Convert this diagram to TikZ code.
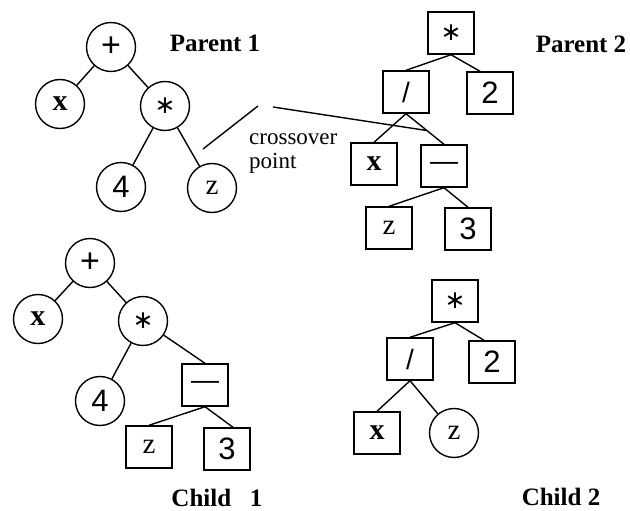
\documentclass[tikz,border=0pt]{standalone}
\usepackage{fontspec}
\setmainfont{Liberation Serif}
\newfontfamily\sansf{Liberation Sans}
\newfontfamily\symf{DejaVu Sans}
\usetikzlibrary{calc}

% font shortcuts for the tree labels
\newcommand{\varlbl}[1]{\fontsize{30}{30}\selectfont\bfseries #1}
\newcommand{\varlblz}[1]{\fontsize{29}{29}\selectfont #1}
\newcommand{\numlbl}[1]{\fontsize{31}{31}\selectfont\sansf #1}
\newcommand{\pluslbl}{\fontsize{34}{34}\selectfont\sansf +}
\newcommand{\oplbl}[1]{\fontsize{28}{28}\selectfont\sansf #1}
\newcommand{\astlbl}{\fontsize{25}{25}\selectfont\symf ∗}
\newcommand{\titlelbl}[1]{\fontsize{25}{25}\selectfont\bfseries #1}

\begin{document}
\begin{tikzpicture}[x=1pt,y=-1pt,
  every node/.style={inner sep=0pt},
  edge/.style={line width=1.4pt},
  circ/.style={circle,draw,line width=1.4pt,minimum size=49pt},
  sq/.style={rectangle,draw,line width=1.4pt,minimum width=46pt,minimum height=42pt},
  title/.style={anchor=base}]
\useasboundingbox (0,0) rectangle (630,511);

% ---------- Parent 1 ----------
\node[circ] (p1plus) at (111,47)  {\pluslbl};
\node[circ] (p1x)    at (60,104)  {\varlbl{x}};
\node[circ] (p1mul)  at (165,106) {\astlbl};
\node[circ] (p1four) at (121,187) {\numlbl{4}};
\node[circ] (p1z)    at (212,188) {\varlblz{z}};
\draw[edge] (p1plus) -- (p1x);
\draw[edge] (p1plus) -- (p1mul);
\draw[edge] (p1mul) -- (p1four);
\draw[edge] (p1mul) -- (p1z);
\node[title] (p1title) at (215,52) {\titlelbl{Parent 1}};

% ---------- Parent 2 ----------
\node[sq] (p2mul)   at (451,33)  {\astlbl};
\node[sq] (p2div)   at (406,92)  {\oplbl{/}};
\node[sq] (p2two)   at (490,93)  {\numlbl{2}};
\node[sq] (p2x)     at (374,164) {\varlbl{x}};
\node[sq] (p2minus) at (444,166) {\oplbl{—}};
\node[sq] (p2z)     at (389,228) {\varlblz{z}};
\node[sq] (p2three) at (468,229) {\numlbl{3}};
\draw[edge] (p2mul.south) -- (p2div.north);
\draw[edge] (p2mul.south) -- ([xshift=-10pt]p2two.north);
\draw[edge] (p2div.south) -- (p2x.north);
\draw[edge] (p2div.south) -- (p2minus.north);
\draw[edge] (p2minus.south) -- (p2z.north);
\draw[edge] (p2minus.south) -- (p2three.north);
\node[title] (p2title) at (581,53) {\titlelbl{Parent 2}};

% ---------- crossover marker ----------
\coordinate (cpA) at (203,149);
\coordinate (cpB) at (258,106);
\coordinate (cpC) at (273,107);
\coordinate (cpD) at ($(p2div.south)!0.55!(p2minus.north)$);
\draw[edge] (cpA) -- (cpB);
\draw[edge] (cpC) -- (cpD);
\node[anchor=base west] (cross) at (249,144) {\fontsize{23}{23}\selectfont crossover};
\node[anchor=base west] (point) at (249,168) {\fontsize{23}{23}\selectfont point};

% ---------- Child 1 ----------
\node[circ] (c1plus)  at (90,263)  {\pluslbl};
\node[circ] (c1x)     at (38,319)  {\varlbl{x}};
\node[circ] (c1mul)   at (143,321) {\astlbl};
\node[circ] (c1four)  at (100,401) {\numlbl{4}};
\node[sq]   (c1minus) at (205,385) {\oplbl{—}};
\node[sq]   (c1z)     at (149,447) {\varlblz{z}};
\node[sq]   (c1three) at (227,449) {\numlbl{3}};
\draw[edge] (c1plus) -- (c1x);
\draw[edge] (c1plus) -- (c1mul);
\draw[edge] (c1mul) -- (c1four);
\draw[edge] (c1mul) -- (c1minus.north);
\draw[edge] (c1minus.south) -- (c1z.north);
\draw[edge] (c1minus.south) -- ([xshift=6pt]c1three.north);
\node[title] (c1title) at (217,506) {\titlelbl{Child\ \ \ 1}};

% ---------- Child 2 ----------
\node[sq]   (c2mul) at (455,301) {\astlbl};
\node[sq]   (c2div) at (410,359) {\oplbl{/}};
\node[sq]   (c2two) at (492,362) {\numlbl{2}};
\node[sq]   (c2x)   at (377,433) {\varlbl{x}};
\node[circ] (c2z)   at (454,433) {\varlblz{z}};
\draw[edge] (c2mul.south) -- (c2div.north);
\draw[edge] (c2mul.south) -- ([xshift=-8pt]c2two.north);
\draw[edge] (c2div.south) -- (c2x.north);
\draw[edge] (c2div.south) -- (c2z);
\node[title] (c2title) at (561,505) {\titlelbl{Child 2}};
\end{tikzpicture}
\end{document}
